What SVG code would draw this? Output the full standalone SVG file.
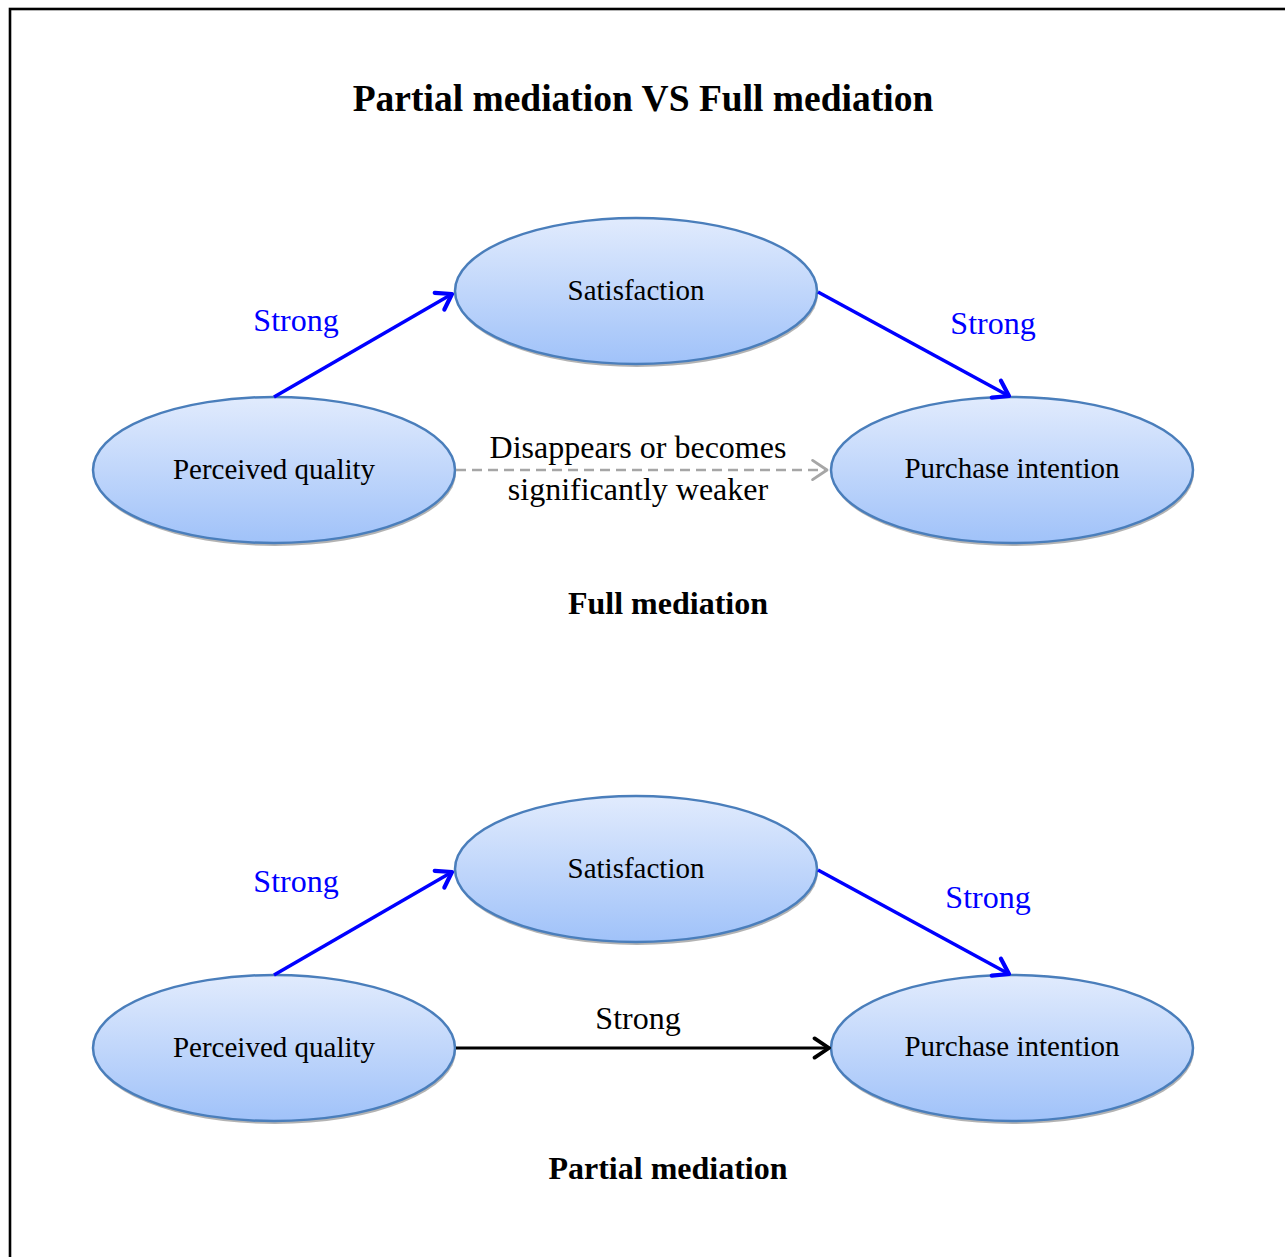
<svg xmlns="http://www.w3.org/2000/svg" width="1285" height="1257" viewBox="0 0 1285 1257">
  <defs>
    <linearGradient id="nodeFill" x1="0" y1="0" x2="0" y2="1">
      <stop offset="0" stop-color="#e1ebfd"/>
      <stop offset="1" stop-color="#a0c2f9"/>
    </linearGradient>
    <marker id="headBlue" markerUnits="userSpaceOnUse" markerWidth="24" markerHeight="24" viewBox="-14 -10 16 20" refX="0" refY="0" orient="auto">
      <path d="M-12,-8 L0,0 L-12,8" fill="none" stroke="#0000ff" stroke-width="3.5" stroke-linecap="round" stroke-linejoin="round"/>
    </marker>
    <marker id="headBlack" markerUnits="userSpaceOnUse" markerWidth="24" markerHeight="24" viewBox="-14 -10 16 20" refX="0" refY="0" orient="auto">
      <path d="M-12,-8 L0,0 L-12,8" fill="none" stroke="#000000" stroke-width="3.2" stroke-linecap="round" stroke-linejoin="round"/>
    </marker>
    <marker id="headGray" markerUnits="userSpaceOnUse" markerWidth="24" markerHeight="24" viewBox="-14 -10 16 20" refX="0" refY="0" orient="auto">
      <path d="M-12,-8 L0,0 L-12,8" fill="none" stroke="#a6a6a6" stroke-width="2.4" stroke-linecap="round" stroke-linejoin="round"/>
    </marker>
  </defs>
  <style>
    text { font-family: "Liberation Serif", "Times New Roman", serif; text-anchor: middle; }
    .title { font-size: 37.5px; font-weight: bold; fill: #000; }
    .caption { font-size: 32px; font-weight: bold; fill: #000; }
    .node-label { font-size: 29px; fill: #000; }
    .edge-label { font-size: 32px; fill: #000; }
    .strong { font-size: 32px; fill: #0000ff; }
    .shadow { fill: #9a9a9a; opacity: 0.75; }
    .body { fill: url(#nodeFill); stroke: #4a7ebb; stroke-width: 2.5; }
    .blue { stroke: #0000ff; stroke-width: 3.5; fill: none; marker-end: url(#headBlue); }
    .black { stroke: #000; stroke-width: 3.2; fill: none; marker-end: url(#headBlack); }
    .dashed { stroke: #a6a6a6; stroke-width: 2.4; stroke-dasharray: 10 6; fill: none; marker-end: url(#headGray); }
  </style>

  <rect width="1285" height="1257" fill="#ffffff"/>
  <!-- frame -->
  <rect x="10" y="9" width="1290" height="1270" fill="none" stroke="#000" stroke-width="2.6"/>

  <text class="title" x="643" y="111">Partial mediation VS Full mediation</text>

  <!-- upper model: full mediation -->
  <g id="full-satisfaction">
    <ellipse class="shadow" cx="637" cy="294" rx="181" ry="73"/>
    <ellipse class="body" cx="636" cy="291" rx="181" ry="73"/>
    <text class="node-label" x="636" y="300">Satisfaction</text>
  </g>
  <g id="full-perceived-quality">
    <ellipse class="shadow" cx="275" cy="473" rx="181" ry="73"/>
    <ellipse class="body" cx="274" cy="470" rx="181" ry="73"/>
    <text class="node-label" x="274" y="479">Perceived quality</text>
  </g>
  <g id="full-purchase-intention">
    <ellipse class="shadow" cx="1013" cy="473" rx="181" ry="73"/>
    <ellipse class="body" cx="1012" cy="470" rx="181" ry="73"/>
    <text class="node-label" x="1012" y="478">Purchase intention</text>
  </g>

  <!-- lower model: partial mediation -->
  <g id="partial-satisfaction">
    <ellipse class="shadow" cx="637" cy="872" rx="181" ry="73"/>
    <ellipse class="body" cx="636" cy="869" rx="181" ry="73"/>
    <text class="node-label" x="636" y="878">Satisfaction</text>
  </g>
  <g id="partial-perceived-quality">
    <ellipse class="shadow" cx="275" cy="1051" rx="181" ry="73"/>
    <ellipse class="body" cx="274" cy="1048" rx="181" ry="73"/>
    <text class="node-label" x="274" y="1057">Perceived quality</text>
  </g>
  <g id="partial-purchase-intention">
    <ellipse class="shadow" cx="1013" cy="1051" rx="181" ry="73"/>
    <ellipse class="body" cx="1012" cy="1048" rx="181" ry="73"/>
    <text class="node-label" x="1012" y="1056">Purchase intention</text>
  </g>

  <g id="connectors">
    <line class="blue" x1="274" y1="397" x2="452" y2="294"/>
    <line class="blue" x1="818" y1="292" x2="1009" y2="396"/>
    <line class="dashed" x1="456" y1="470" x2="827" y2="470"/>

    <line class="blue" x1="274" y1="975" x2="452" y2="872"/>
    <line class="blue" x1="818" y1="870" x2="1009" y2="974"/>
    <line class="black" x1="456" y1="1048" x2="829" y2="1048"/>
  </g>

  <g id="labels">
    <text class="strong" x="296" y="331">Strong</text>
    <text class="strong" x="993" y="334">Strong</text>
    <text class="edge-label" x="638" y="458">Disappears or becomes</text>
    <text class="edge-label" x="638" y="500">significantly weaker</text>
    <text class="caption" x="668" y="614">Full mediation</text>

    <text class="strong" x="296" y="892">Strong</text>
    <text class="strong" x="988" y="908">Strong</text>
    <text class="edge-label" x="638" y="1029">Strong</text>
    <text class="caption" x="668" y="1179">Partial mediation</text>
  </g>
</svg>
